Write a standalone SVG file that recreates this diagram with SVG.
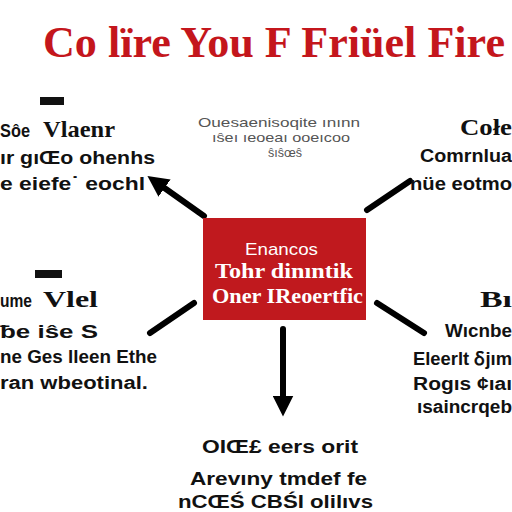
<svg xmlns="http://www.w3.org/2000/svg" width="512" height="512" viewBox="0 0 512 512">
<style>
.title{font-family:"Liberation Serif",serif;font-weight:bold;fill:#c4161c;font-size:44px}
.b{font-family:"Liberation Sans",Arial,sans-serif;font-weight:bold;fill:#111;font-size:18px}
.h{font-family:"Liberation Serif",serif;font-weight:bold;fill:#111;font-size:24px}
.g{font-family:"Liberation Sans",Arial,sans-serif;fill:#555;font-size:13px}
.w{font-family:"Liberation Sans",Arial,sans-serif;fill:#fff;font-size:17px}
.ws{font-family:"Liberation Serif",serif;font-weight:bold;fill:#fff;font-size:20px}
.ln{stroke:#000;stroke-width:6;stroke-linecap:round;fill:none}
</style>
<defs>
<marker id="ah" viewBox="0 0 10 10" refX="5" refY="5" markerWidth="3.5" markerHeight="3.5" orient="auto-start-reverse">
<path d="M0,0 L10,5 L0,10 z" fill="#000"/>
</marker>
</defs>
<rect width="512" height="512" fill="#fff"/>
<text class="title" x="43" y="57" textLength="462" lengthAdjust="spacingAndGlyphs">Co lïre You F Friüel Fire</text>

<g id="connectors">
<line class="ln" x1="204" y1="216" x2="156" y2="182" marker-end="url(#ah)"/>
<line class="ln" x1="367" y1="210" x2="410" y2="181"/>
<line class="ln" x1="150" y1="333" x2="194" y2="303"/>
<line class="ln" x1="377" y1="303" x2="424" y2="333"/>
<line class="ln" x1="283" y1="329" x2="283" y2="406" marker-end="url(#ah)"/>
</g>

<g id="center">
<rect x="203" y="218" width="163" height="102" fill="#c0191e"/>
<text class="w" x="245" y="255" textLength="73" lengthAdjust="spacingAndGlyphs">Enancos</text>
<text class="ws" x="215" y="278" textLength="138" lengthAdjust="spacingAndGlyphs">Tohr dinıntik</text>
<text class="ws" x="212" y="303" textLength="151" lengthAdjust="spacingAndGlyphs">Oner IReoertfic</text>
</g>

<g id="top-left">
<rect x="40" y="97" width="24" height="8" fill="#111"/>
<text class="b" x="0" y="137" textLength="30" lengthAdjust="spacingAndGlyphs">Sôe</text>
<text class="h" x="43" y="137" textLength="72" lengthAdjust="spacingAndGlyphs">Vlaenr</text>
<text class="b" x="0" y="164" textLength="155" lengthAdjust="spacingAndGlyphs">ır gıŒo ohenhs</text>
<text class="b" x="0" y="190" textLength="145" lengthAdjust="spacingAndGlyphs">e eiefe˙ eochl</text>
</g>

<g id="top-center">
<text class="g" x="198" y="127" textLength="162" lengthAdjust="spacingAndGlyphs">Ouesaenisoqite ınınn</text>
<text class="g" x="212" y="142" textLength="138" lengthAdjust="spacingAndGlyphs">ıŝeı ıeoeaı ooeıcoo</text>
<text class="g" x="268" y="157" textLength="34" lengthAdjust="spacingAndGlyphs">ŝıŝœŝ</text>
</g>

<g id="top-right">
<text class="h" x="460" y="135" textLength="52" lengthAdjust="spacingAndGlyphs">Cołe</text>
<text class="b" x="420" y="162" textLength="92" lengthAdjust="spacingAndGlyphs">Comrnlua</text>
<text class="b" x="410" y="190" textLength="102" lengthAdjust="spacingAndGlyphs">nüe eotmo</text>
</g>

<g id="middle-left">
<rect x="35" y="270" width="27" height="8" fill="#111"/>
<text class="b" x="0" y="307" textLength="32" lengthAdjust="spacingAndGlyphs">ume</text>
<text class="h" x="43" y="307" textLength="55" lengthAdjust="spacingAndGlyphs">Vlel</text>
<text class="b" x="0" y="338" textLength="98" lengthAdjust="spacingAndGlyphs">ƀe iŝe S</text>
<text class="b" x="0" y="363" textLength="157" lengthAdjust="spacingAndGlyphs">ne Ges lleen Ethe</text>
<text class="b" x="0" y="389" textLength="148" lengthAdjust="spacingAndGlyphs">ran wbeotinal.</text>
</g>

<g id="middle-right">
<text class="h" x="480" y="307" textLength="32" lengthAdjust="spacingAndGlyphs">Bı</text>
<text class="b" x="445" y="337" textLength="67" lengthAdjust="spacingAndGlyphs">Wıcnbe</text>
<text class="b" x="413" y="365" textLength="99" lengthAdjust="spacingAndGlyphs">Eleerlt ẟjım</text>
<text class="b" x="413" y="390" font-size="20" textLength="99" lengthAdjust="spacingAndGlyphs">Rogıs ¢ıaı</text>
<text class="b" x="417" y="413" font-size="15" textLength="95" lengthAdjust="spacingAndGlyphs">ısaincrqeb</text>
</g>

<g id="bottom">
<text class="b" x="202" y="453" textLength="156" lengthAdjust="spacingAndGlyphs">OIŒ£ eers orit</text>
<text class="b" x="190" y="485" textLength="177" lengthAdjust="spacingAndGlyphs">Arevıny tmdef fe</text>
<text class="b" x="178" y="508" textLength="195" lengthAdjust="spacingAndGlyphs">nCŒŚ CBŚI olilıvs</text>
</g>
</svg>
